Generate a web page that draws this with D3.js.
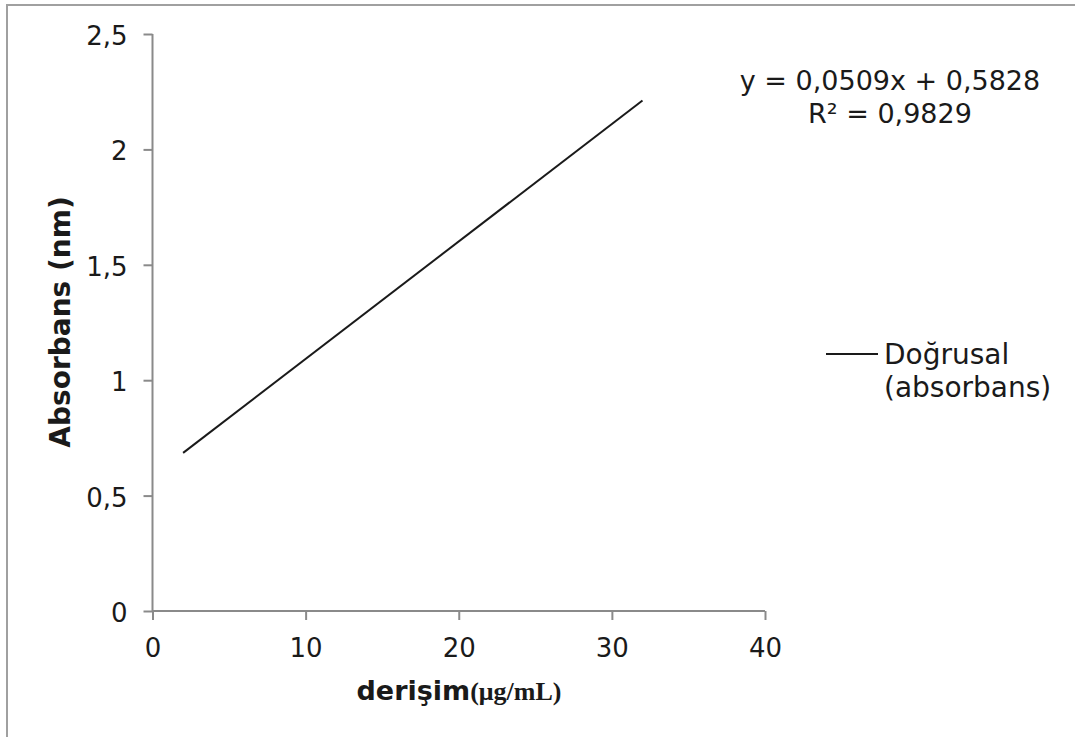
<!DOCTYPE html>
<html><head><meta charset="utf-8">
<script src="https://cdn.jsdelivr.net/npm/d3@7"></script>
<style>body{margin:0;background:#fff}svg{display:block}</style>
</head><body><svg id="c" width="1075" height="737"></svg>
<script>
const xTicks = [0, 10, 20, 30, 40];
const yTicks = [0, 0.5, 1, 1.5, 2, 2.5];
const trendX = [2, 32];
const trendY = [0.685, 2.212];
const equationLines = ["y = 0,0509x + 0,5828", "R² = 0,9829"];
const legendLines = ["Doğrusal", "(absorbans)"];
const xTitle = "derişim";
const xUnit = "(μg/mL)";
const yTitle = "Absorbans (nm)";

const svg = d3.select("#c");
const F = "Verdana, 'DejaVu Sans', sans-serif";
const fmt = d => String(d).replace(".", ",");

// outer frame (top and left visible)
svg.append("path").attr("d", "M1075,5 H7 V737").attr("fill", "none")
  .attr("stroke", "#a0a0a0").attr("stroke-width", 2);

const x = d3.scaleLinear().domain([0, 40]).range([152.5, 765]);
const y = d3.scaleLinear().domain([0, 2.5]).range([611, 34]);

const xAxis = svg.append("g").attr("transform", "translate(0,611)")
  .call(d3.axisBottom(x).tickValues(xTicks).tickSize(9).tickPadding(19).tickFormat(fmt));
const yAxis = svg.append("g").attr("transform", "translate(152.5,0)")
  .call(d3.axisLeft(y).tickValues(yTicks).tickSize(9).tickPadding(16).tickFormat(fmt));
[xAxis, yAxis].forEach(a => {
  a.select(".domain").attr("stroke", "#8a8a8a").attr("stroke-width", 2);
  a.selectAll(".tick line").attr("stroke", "#8a8a8a").attr("stroke-width", 2);
  a.selectAll(".tick text").attr("fill", "#1a1a1a").style("font-family", F).style("font-size", "26px");
});
xAxis.select(".domain").attr("d", `M${x(0)},0H${x(40)}`);
yAxis.select(".domain").attr("d", `M0,${y(0)}V${y(2.5)}`);
yAxis.selectAll(".tick text").attr("dy", "0.4em");

// trend line
const pts = trendX.map((v, i) => [v, trendY[i]]);
svg.append("path").datum(pts)
  .attr("d", d3.line().x(d => x(d[0])).y(d => y(d[1])))
  .attr("fill", "none").attr("stroke", "#1a1a1a").attr("stroke-width", 2);

// equation
const eq = svg.append("text").attr("text-anchor", "middle").attr("fill", "#1a1a1a")
  .style("font-family", F).style("font-size", "27px");
equationLines.forEach((t, i) => eq.append("tspan").attr("x", 890).attr("y", 90 + i * 33).text(t));

// legend
svg.append("line").attr("x1", 826).attr("x2", 878).attr("y1", 354).attr("y2", 354)
  .attr("stroke", "#1a1a1a").attr("stroke-width", 2);
const lg = svg.append("text").attr("fill", "#1a1a1a")
  .style("font-family", F).style("font-size", "28px");
legendLines.forEach((t, i) => lg.append("tspan").attr("x", 884).attr("y", 364 + i * 33).text(t));

// axis titles
const xt = svg.append("text").attr("x", 459).attr("y", 700).attr("text-anchor", "middle")
  .attr("fill", "#1a1a1a");
xt.append("tspan").style("font-family", F).style("font-size", "27px").style("font-weight", "bold").text(xTitle);
xt.append("tspan").style("font-family", "'Liberation Serif', 'Times New Roman', serif")
  .style("font-size", "26px").style("font-weight", "bold").text(xUnit);

svg.append("text").attr("transform", "translate(70,322) rotate(-90)").attr("text-anchor", "middle")
  .attr("fill", "#1a1a1a").style("font-family", F).style("font-size", "28px").style("font-weight", "bold")
  .text(yTitle);
</script></body></html>
